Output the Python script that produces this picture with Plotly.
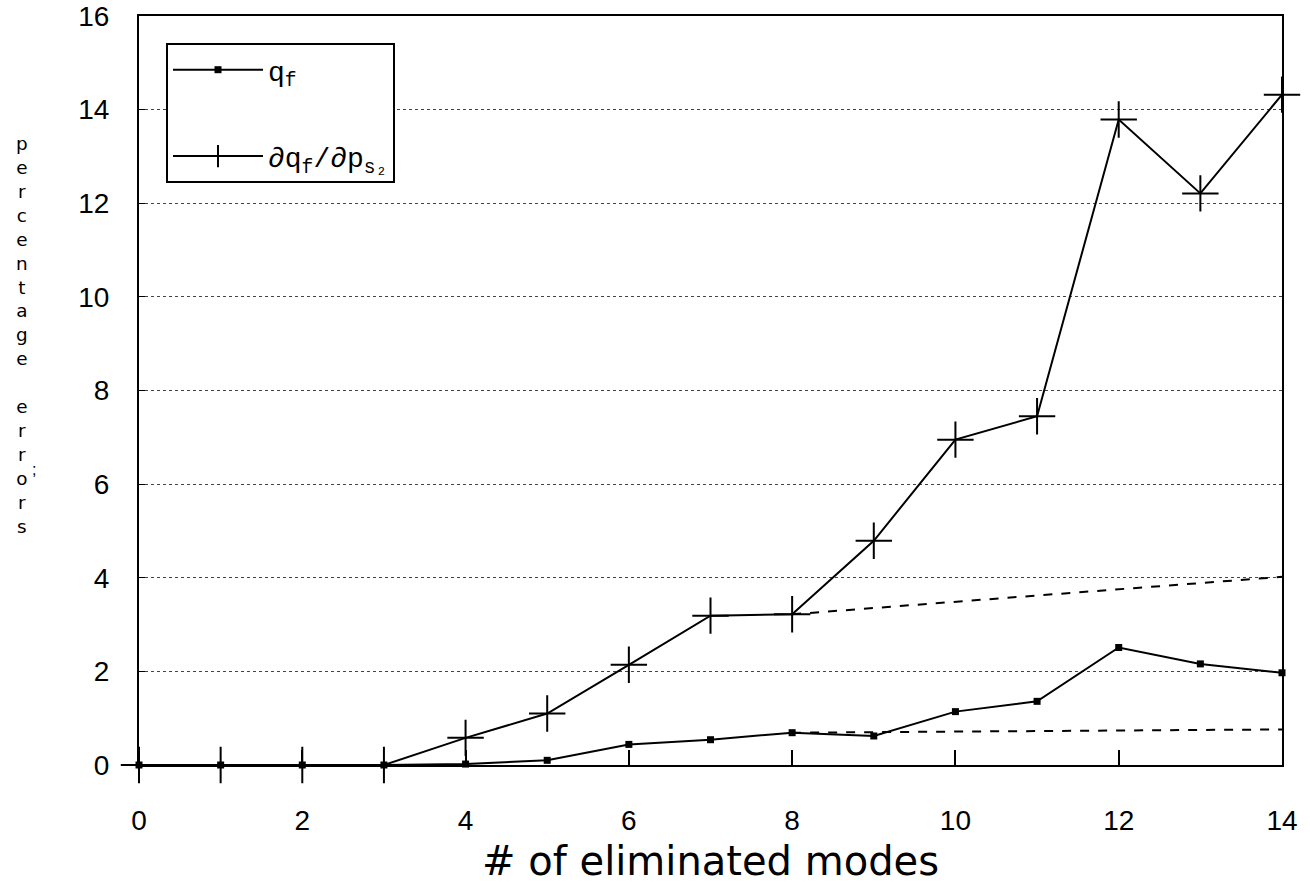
import plotly.graph_objects as go

modes = list(range(15))
qf = [0, 0, 0, 0, 0.02, 0.10, 0.44, 0.54, 0.69, 0.62, 1.14, 1.36, 2.51, 2.16, 1.97]
dqf = [0, 0, 0, 0, 0.58, 1.10, 2.14, 3.19, 3.22, 4.79, 6.95, 7.45, 13.79, 12.21, 14.32]
qf_trend_x = [8, 14]
qf_trend = [0.69, 0.76]
dqf_trend_x = [8, 14]
dqf_trend = [3.22, 4.02]

x_ticks = list(range(0, 15, 2))
y_ticks = list(range(0, 17, 2))
y_title = "percentage errors"

fig = go.Figure()
fig.add_trace(go.Scatter(x=qf_trend_x, y=qf_trend, mode="lines",
                         line=dict(color="black", width=2, dash="dash"),
                         showlegend=False, cliponaxis=False))
fig.add_trace(go.Scatter(x=dqf_trend_x, y=dqf_trend, mode="lines",
                         line=dict(color="black", width=2, dash="dash"),
                         showlegend=False, cliponaxis=False))
fig.add_trace(go.Scatter(x=modes, y=qf, mode="lines+markers", name="q<sub>f</sub>",
                         legendgroup="a",
                         line=dict(color="black", width=2),
                         marker=dict(symbol="square", size=7, color="black"),
                         cliponaxis=False))
fig.add_trace(go.Scatter(x=modes, y=dqf, mode="lines+markers",
                         name="\u2202q<sub>f</sub>/\u2202p<sub>s\u2082</sub>",
                         legendgroup="b",
                         line=dict(color="black", width=2),
                         marker=dict(symbol="cross-thin", size=26,
                                     line=dict(color="black", width=2)),
                         cliponaxis=False))

W, H = 1310, 888
L, R, T, B = 139, 28, 16, 123
plot_h = H - T - B
plot_w = W - L - R

def py(p):
    return (H - B - p) / plot_h

def px(p):
    return (p - L) / plot_w

stacked = "<br>".join(ch if ch != " " else "&nbsp;" for ch in y_title)
annotations = [
    dict(text=stacked, xref="paper", yref="paper", x=px(22), y=py(131),
         xanchor="center", yanchor="top", showarrow=False, align="center",
         font=dict(family="DejaVu Sans", size=18.4, color="black")),
    dict(text=";", xref="paper", yref="paper", x=px(34), y=py(470),
         xanchor="center", yanchor="middle", showarrow=False,
         font=dict(family="Liberation Sans", size=16, color="black")),
]

fig.update_layout(
    width=W, height=H,
    margin=dict(l=L, r=R, t=T, b=B, autoexpand=False),
    paper_bgcolor="white", plot_bgcolor="white",
    font=dict(family="Liberation Sans", color="black"),
    showlegend=True,
    legend=dict(x=px(166), y=py(43), xanchor="left", yanchor="top",
                bgcolor="white", bordercolor="black", borderwidth=2,
                font=dict(family="Liberation Mono", size=28, color="black"),
                tracegroupgap=47, itemwidth=90),
    annotations=annotations,
    xaxis=dict(range=[0, 14], tickvals=x_ticks, ticks="inside", ticklen=15,
               tickcolor="black", tickwidth=1.5, automargin=False,
               showline=True, linecolor="black", linewidth=2, mirror=True,
               showgrid=False, zeroline=False,
               tickfont=dict(family="Liberation Sans", size=28, color="black"),
               ticklabelstandoff=29,
               title=dict(text="# of eliminated modes", standoff=12,
                          font=dict(family="DejaVu Sans", size=40, color="black"))),
    yaxis=dict(range=[0, 16], tickvals=y_ticks, ticks="inside", ticklen=6,
               tickcolor="black", automargin=False,
               showline=True, linecolor="black", linewidth=2, mirror=True,
               showgrid=True, gridcolor="#444444", griddash="dot", gridwidth=1,
               zeroline=False,
               tickfont=dict(family="Liberation Sans", size=28, color="black"),
               ticklabelstandoff=22),
)

fig.write_html("out.html")
